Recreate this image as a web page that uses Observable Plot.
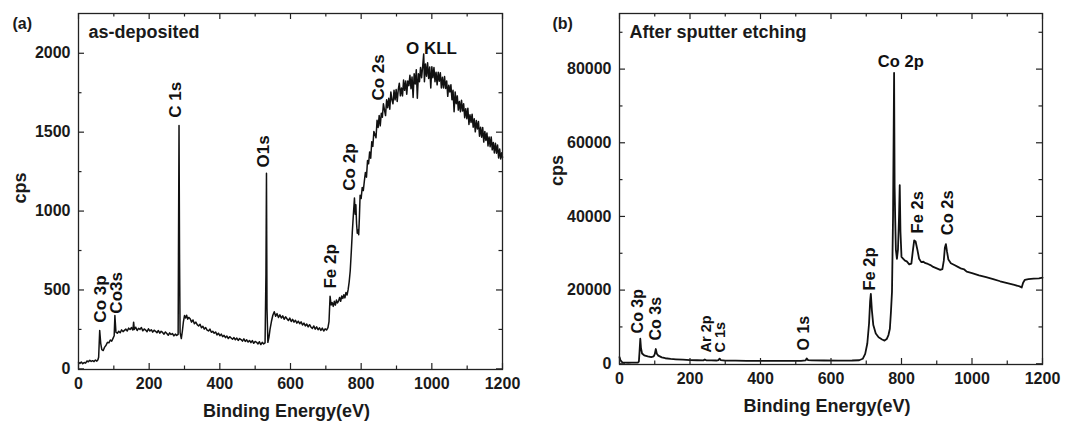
<!DOCTYPE html>
<html><head><meta charset="utf-8">
<script src="https://cdn.jsdelivr.net/npm/d3@7"></script>
<script src="https://cdn.jsdelivr.net/npm/@observablehq/plot@0.6"></script>
<style>
body{margin:0;background:#fff;}
#wrap{position:relative;width:1072px;height:421px;overflow:hidden;background:#fff;}
#pa{position:absolute;left:0;top:0;}
#pb{position:absolute;left:540px;top:0;}
</style></head><body>
<div id="wrap"><div id="pa"></div><div id="pb"></div></div>
<script>
// ---------- DATA ----------
const energyTicks = [0, 200, 400, 600, 800, 1000, 1200];
const energyMinor = [100, 300, 500, 700, 900, 1100];

const cpsTicksA = [0, 500, 1000, 1500, 2000];
const cpsMinorA = [250, 750, 1250, 1750];
const cpsTicksB = [0, 20000, 40000, 60000, 80000];
const cpsMinorB = [10000, 30000, 50000, 70000, 90000];

// (a) as-deposited survey: [binding energy eV, cps]
const asDeposited = [
[0,42],[4,35],[8,44],[12,33],[16,40],[20,36],[24,50],[28,45],[32,55],[36,47],[40,52],[44,46],[48,56],[52,49],[55,58],[57,74],[60,243],[63,160],[66,122],[70,116],[74,138],[78,150],[82,168],[86,165],[90,183],[94,176],[98,195],[101,210],[103,338],[106,232],
[110,226],[114,238],[118,229],[122,247],[126,236],[130,244],[134,252],[138,240],[142,258],[146,249],[150,262],[154,246],[156,296],[158,250],[162,264],[166,243],[170,257],[174,250],[178,262],[182,241],[186,253],[190,246],[194,236],[198,254],[202,240],[206,248],[210,233],[214,245],[218,238],[222,229],[226,243],[230,226],[234,238],[238,231],[242,220],[246,234],[250,224],[254,213],[258,228],[262,218],[266,224],[270,209],[274,220],[278,212],[282,218],
[284.5,1542],[286,700],[287.5,230],[291,192],[294,240],[297,300],
[300,338],[303,322],[306,340],[309,315],[312,326],[316,318],[320,296],[324,310],[328,286],[332,296],[336,280],[340,272],[344,283],[348,260],[352,270],[356,252],[360,262],[364,246],[368,240],[372,252],[376,232],[380,238],[384,226],[388,234],[392,215],[396,226],[400,210],[404,220],[408,204],[412,212],[416,198],[420,208],[424,192],[428,204],[432,196],[436,188],[440,198],[444,184],[448,195],[452,180],[456,192],[460,186],[464,176],[468,190],[472,174],[476,184],[480,170],[484,180],[488,166],[492,179],[496,162],[500,174],[504,168],[508,158],[512,172],[516,154],[520,168],[524,158],[528,164],
[530.5,600],[532,1240],[533.5,380],[536,168],[539,200],[542,250],[546,300],[550,340],
[554,362],[558,334],[562,350],[566,326],[570,342],[574,322],[578,336],[582,314],[586,330],[590,318],[594,306],[598,322],[602,300],[606,314],[610,296],[614,308],[618,290],[622,302],[626,286],[630,298],[634,278],[638,290],[642,272],[646,284],[650,266],[654,280],[658,264],[662,256],[666,272],[670,252],[674,266],[678,248],[682,260],[686,244],[690,258],[694,240],[698,254],[702,246],[706,262],
[709,300],[712,460],[715,405],[718,420],[721,396],[724,428],[727,404],[730,436],[733,418],[736,430],[739,452],[742,428],[745,462],[748,446],[751,470],[754,450],[757,484],[760,468],[763,500],[766,550],[769,620],[772,740],[775,870],[778,980],[781,1083],[783,980],[785,1040],[787,920],[789,860],[791,880],[793,850],[795,960],[797,1100],[800,1080],[803,1150],[806,1130],[809,1190],
[812,1245],[815,1215],[818,1320],[821,1300],[824,1375],[827,1335],[830,1440],[833,1410],[836,1505],[839,1485],[842,1465],[845,1575],[848,1530],[851,1605],[854,1540],[857,1620],[860,1595],[863,1680],[866,1640],[869,1605],[872,1705],[875,1655],[878,1715],[881,1645],[884,1755],[887,1705],[890,1680],[893,1765],[896,1705],[899,1770],[902,1695],[905,1770],[908,1810],[911,1730],[914,1780],[917,1730],[920,1830],[923,1765],[926,1825],[929,1740],[932,1825],[935,1795],[938,1860],[941,1775],[944,1850],[947,1720],[950,1870],[953,1805],[956,1895],[959,1715],[962,1870],[965,1820],[968,1910],[971,1845],[974,1915],[977,1996],[979,1820],[982,1932],[985,1855],[988,1940],[991,1840],[994,1913],[997,1780],[1000,1915],[1003,1845],[1006,1910],[1009,1820],[1012,1880],[1015,1800],[1018,1880],[1021,1823],[1024,1877],[1027,1780],[1030,1848],[1033,1780],[1036,1853],[1039,1777],[1042,1825],[1045,1727],[1048,1798],[1051,1755],[1054,1800],[1057,1705],[1060,1765],[1063,1630],[1066,1755],[1069,1680],[1072,1730],[1075,1640],[1078,1695],[1081,1630],[1084,1702],[1087,1634],[1090,1680],[1093,1592],[1096,1649],[1099,1585],[1102,1652],[1105,1549],[1108,1610],[1111,1562],[1114,1614],[1117,1531],[1120,1585],[1123,1502],[1126,1574],[1129,1520],[1132,1567],[1135,1474],[1138,1531],[1141,1468],[1144,1530],[1147,1437],[1150,1505],[1153,1448],[1156,1495],[1159,1413],[1162,1470],[1165,1408],[1168,1470],[1171,1388],[1174,1435],[1177,1368],[1180,1430],[1183,1367],[1186,1419],[1189,1336],[1192,1393],[1195,1330],[1198,1370],[1200,1340]
];

// (b) after sputter etching: [binding energy eV, cps]
const afterEtch = [
[0,1800],[3,900],[8,400],[15,300],[25,280],[35,300],[45,290],[52,320],[55,600],[57,3500],[59,6800],[61,4200],[64,2800],[70,2300],[80,2000],[90,1800],[97,2000],[100,2600],[103,4000],[106,2700],[110,2200],[120,1750],[130,1500],[145,1300],[160,1200],[180,1100],[200,1000],[220,950],[238,920],[242,1150],[246,930],[260,900],[275,880],[281,1000],[284,1400],[287,1000],[300,860],[330,830],[360,810],[400,800],[440,790],[480,780],[515,780],[528,900],[531,1450],[535,1000],[545,900],[580,880],[620,870],[660,880],[680,950],[690,1350],[697,2700],[703,5500],[708,11000],[711,17000],[713,19000],[716,14500],[720,10500],[727,8200],[735,7200],[745,6600],[752,6300],[758,6700],[763,7800],[767,9500],[770,14000],[773,19500],[776,40000],[779,79000],[780.5,48000],[782,40000],[784,31000],[787,28500],[790,31000],[793,40000],[795,48500],[797,36000],[800,29000],[805,28500],[810,28000],[815,27800],[822,27000],[828,27200],[832,30500],[836,33500],[840,33200],[845,31000],[850,28500],[856,27600],[862,27700],[868,27300],[875,27100],[882,26800],[890,26300],[900,25900],[910,25500],[916,25700],[920,28000],[923,31500],[926,32500],[929,30500],[933,28300],[940,27300],[950,26800],[960,26300],[970,25800],[978,25600],[985,25000],[1000,24600],[1020,24000],[1040,23500],[1060,23000],[1080,22400],[1100,21900],[1120,21400],[1135,21000],[1141,20700],[1145,22000],[1150,22800],[1160,23000],[1175,23100],[1190,23200],[1200,23400]
];

// peak labels (rotated): name, energy, cps at text start
const peakNamesA = ["Co 3p", "Co3s", "C 1s", "O1s", "Fe 2p", "Co 2p", "Co 2s"];
const peakEA     = [61, 108, 276, 525, 712, 768, 850];
const peakCpsA   = [293, 350, 1592, 1276, 509, 1129, 1700];
const flatNamesA = ["O KLL"];
const flatEA = [999];
const flatCpsA = [1995];

const peakNamesB = ["Co 3p", "Co 3s", "Ar 2p", "C 1s", "O 1s", "Fe 2p", "Fe 2s", "Co 2s"];
const peakEB     = [51, 103, 245, 285, 524, 711, 845, 930];
const peakCpsB   = [8240, 6330, 3070, 3070, 3620, 19900, 35400, 34900];
const flatNamesB = ["Co 2p"];
const flatEB = [798];
const flatCpsB = [80600];

// ---------- DRAW ----------
const FONT = "Liberation Sans, Arial, Helvetica, sans-serif";

function panel(cfg) {
  const H = 421;
  const xDom = [0, 1200];
  const kx = (xDom[1] - xDom[0]) / (cfg.width - cfg.mL - cfg.mR);
  const ky = (cfg.yDom[1] - cfg.yDom[0]) / (H - cfg.mT - cfg.mB);
  const y0 = cfg.yDom[0], y1 = cfg.yDom[1];
  const maj = 6, mnr = 3.5;
  const tickStyle = {stroke: "#222", strokeWidth: 1.2};
  return Plot.plot({
    width: cfg.width, height: H,
    marginLeft: cfg.mL, marginRight: cfg.mR, marginTop: cfg.mT, marginBottom: cfg.mB,
    style: {fontFamily: FONT, fontWeight: "bold", color: "#1a1a1a", background: "#fff"},
    x: {domain: xDom},
    y: {domain: cfg.yDom},
    marks: [
      Plot.line(cfg.data, {x: d => d[0], y: d => d[1], stroke: "#111", strokeWidth: cfg.lw, strokeLinejoin: "round"}),
      // inward ticks on all four sides
      Plot.ruleX(energyTicks, {x: d => d, y1: y0, y2: y0 + maj * ky, ...tickStyle}),
      Plot.ruleX(energyMinor, {x: d => d, y1: y0, y2: y0 + mnr * ky, ...tickStyle}),
      Plot.ruleX(energyTicks, {x: d => d, y1: y1 - maj * ky, y2: y1, ...tickStyle}),
      Plot.ruleX(energyMinor, {x: d => d, y1: y1 - mnr * ky, y2: y1, ...tickStyle}),
      Plot.ruleY(cfg.yTicks, {y: d => d, x1: 0, x2: maj * kx, ...tickStyle}),
      Plot.ruleY(cfg.yMinor, {y: d => d, x1: 0, x2: mnr * kx, ...tickStyle}),
      Plot.ruleY(cfg.yTicks, {y: d => d, x1: 1200 - maj * kx, x2: 1200, ...tickStyle}),
      Plot.ruleY(cfg.yMinor, {y: d => d, x1: 1200 - mnr * kx, x2: 1200, ...tickStyle}),
      Plot.frame({stroke: "#222", strokeWidth: 1.3}),
      Plot.axisX(energyTicks, {tickSize: 0, tickPadding: 8, tickFormat: d => String(d), fontSize: 16, fontWeight: "bold", label: null}),
      Plot.axisY(cfg.yTicks, {tickSize: 0, tickPadding: 8, tickFormat: d => String(d), fontSize: 16, fontWeight: "bold", label: null}),
      // axis titles
      Plot.text(["Binding Energy(eV)"], {frameAnchor: "bottom", dy: 42, dx: -4, lineAnchor: "middle", fontSize: 18, fontWeight: "bold"}),
      Plot.text(["cps"], {frameAnchor: "left", dx: cfg.cpsDx, dy: cfg.cpsDy, rotate: -90, lineAnchor: "middle", fontSize: 18, fontWeight: "bold"}),
      // panel letter and title
      Plot.text([cfg.letter], {frameAnchor: "top-left", dx: cfg.letterDx, dy: 10, textAnchor: "start", lineAnchor: "middle", fontSize: 16, fontWeight: "bold"}),
      Plot.text([cfg.title], {frameAnchor: "top-left", dx: 10, dy: 19, textAnchor: "start", lineAnchor: "middle", fontSize: 18, fontWeight: "bold"}),
      // peak labels
      Plot.text(cfg.peakNames, {x: (d, i) => cfg.peakE[i], y: (d, i) => cfg.peakCps[i], text: d => d,
        rotate: -90, textAnchor: "start", lineAnchor: "middle", fontSize: (d, i) => cfg.peakSize[i], fontWeight: "bold", fill: "#111"}),
      Plot.text(cfg.flatNames, {x: (d, i) => cfg.flatE[i], y: (d, i) => cfg.flatCps[i], text: d => d,
        textAnchor: "middle", lineAnchor: "bottom", fontSize: cfg.flatSize, fontWeight: "bold", fill: "#111"})
    ]
  });
}

document.getElementById("pa").appendChild(panel({
  width: 540, mL: 78, mR: 38, mT: 13, mB: 52,
  yDom: [-4, 2252], yTicks: cpsTicksA, yMinor: cpsMinorA,
  data: asDeposited, lw: 1.5,
  letter: "(a)", letterDx: -66, title: "as-deposited", cpsDx: -58, cpsDy: 12,
  peakNames: peakNamesA, peakE: peakEA, peakCps: peakCpsA, peakSize: [17, 17, 17, 17, 17, 17, 17],
  flatNames: flatNamesA, flatE: flatEA, flatCps: flatCpsA, flatSize: 17
}));

document.getElementById("pb").appendChild(panel({
  width: 532, mL: 79, mR: 30, mT: 13, mB: 57,
  yDom: [-200, 95100], yTicks: cpsTicksB, yMinor: cpsMinorB,
  data: afterEtch, lw: 1.8,
  letter: "(b)", letterDx: -67, title: "After sputter etching", cpsDx: -62, cpsDy: -3,
  peakNames: peakNamesB, peakE: peakEB, peakCps: peakCpsB, peakSize: [16, 16, 14.5, 14.5, 16, 16.5, 16.5, 16.5],
  flatNames: flatNamesB, flatE: flatEB, flatCps: flatCpsB, flatSize: 16.5
}));
</script>
</body></html>
